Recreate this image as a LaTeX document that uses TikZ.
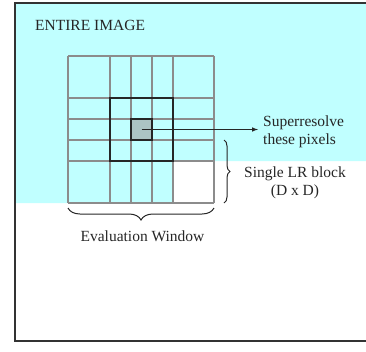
\documentclass[tikz,border=0pt]{standalone}
\usepackage{fontspec}
\setmainfont{Liberation Serif}
\usetikzlibrary{decorations.pathreplacing}

\definecolor{imgcyan}{RGB}{192,255,255}
\definecolor{pixgray}{RGB}{172,196,196}

\begin{document}
\begin{tikzpicture}[x=1pt,y=-1pt,
      every node/.style={
        text=black!85,
        inner sep=0pt,
        font=\fontsize{15.5}{18}\selectfont   % serif labels, same size everywhere
      },
      gridline/.style={draw=black!45, line width=1.2pt},
      pixel/.style={rectangle, draw=black!85, line width=1.2pt, fill=pixgray, minimum size=21pt},
      bracket/.style={decorate, decoration={brace, amplitude=#1}, draw=black!85, line width=1pt}]
      \useasboundingbox (0,0) rectangle (366,351);

      % image area (light part) and frame
      \fill[imgcyan] (15,3) -- (366,3) -- (366,161) -- (173,161) -- (173,203) -- (15,203) -- cycle;
      \draw[black!80, line width=1.2pt] (367,3) -- (15,3) -- (15,341) -- (367,341);

      % evaluation window grid
      \foreach \x in {68,110,131,152,173,214}
        \draw[gridline] (\x,56) -- (\x,203);
      \foreach \y in {56,98,119,140,161,203}
        \draw[gridline] (68,\y) -- (214,\y);

      % LR block and the pixels to superresolve
      \draw[black!85, line width=1.3pt] (110,98) rectangle (173,161);
      \node[pixel] (px) at (141.5,129.5) {};

      \node[anchor=west] (title) at (35,25) {ENTIRE IMAGE};
      \node[anchor=west, align=left] (sr) at (263,131.5) {Superresolve\\these pixels};
      \node[align=center] (lr) at (295,183) {Single LR block\\(D x D)};
      \node (ew) at (142.5,236) {Evaluation Window};

      \coordinate (tip) at (258,129.5);
      \draw[-latex, black!85, line width=1pt] (px.center) -- (tip);

      \draw[bracket=6pt] (224,140) -- (224,203);
      \draw[bracket=12pt] (214,208) -- (68,208);
    \end{tikzpicture}
\end{document}
